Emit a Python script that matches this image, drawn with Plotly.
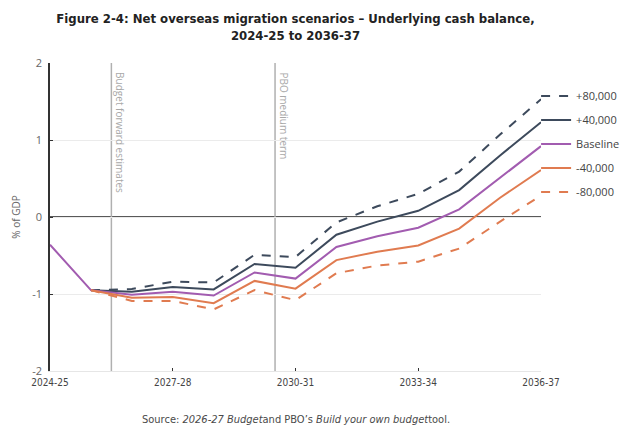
import plotly.graph_objects as go

years = ["2024-25", "2025-26", "2026-27", "2027-28", "2028-29", "2029-30", "2030-31",
         "2031-32", "2032-33", "2033-34", "2034-35", "2035-36", "2036-37"]
tick_labels = ["2024-25", "2027-28", "2030-31", "2033-34", "2036-37"]

plus80 = [None, -0.95, -0.935, -0.84, -0.85, -0.49, -0.52, -0.07, 0.14, 0.30, 0.59, 1.07, 1.53]
plus40 = [None, -0.95, -0.97, -0.91, -0.94, -0.61, -0.66, -0.23, -0.06, 0.08, 0.35, 0.80, 1.23]
baseline = [-0.36, -0.95, -1.01, -0.97, -1.02, -0.72, -0.80, -0.39, -0.25, -0.14, 0.10, 0.51, 0.92]
minus40 = [None, -0.95, -1.05, -1.04, -1.12, -0.83, -0.93, -0.56, -0.45, -0.37, -0.15, 0.25, 0.61]
minus80 = [None, -0.95, -1.09, -1.09, -1.20, -0.95, -1.08, -0.73, -0.63, -0.58, -0.41, -0.06, 0.28]

NAVY = "#3d4a5c"
PURPLE = "#a25cb0"
ORANGE = "#e07b50"
COND = "DejaVu Sans Condensed, Roboto, sans-serif"

series = [
    ("+80,000", plus80, NAVY, "dash"),
    ("+40,000", plus40, NAVY, "solid"),
    ("Baseline", baseline, PURPLE, "solid"),
    ("-40,000", minus40, ORANGE, "solid"),
    ("-80,000", minus80, ORANGE, "dash"),
]

fig = go.Figure()
for i, (name, vals, color, dash) in enumerate(series):
    fig.add_trace(go.Scatter(
        x=years, y=vals, name=name, mode="lines", legendgroup=str(i),
        line=dict(color=color, width=2, dash=dash), connectgaps=False,
    ))

# zero line
fig.add_shape(type="line", xref="paper", x0=0, x1=1, yref="y", y0=0, y1=0,
              line=dict(color="#222222", width=1.5), layer="below")
# period separators
for xpos, label in [(1.5, "Budget forward estimates"), (5.5, "PBO medium term")]:
    fig.add_shape(type="line", xref="x", x0=xpos, x1=xpos, yref="paper", y0=0, y1=1,
                  line=dict(color="#b0b0b0", width=1.5), layer="below")
    fig.add_annotation(x=xpos, xref="x", y=1, yref="paper", text=label, textangle=90,
                       showarrow=False, xanchor="left", yanchor="top", xshift=0, yshift=-7,
                       font=dict(family="Open Sans", size=10, color="#a8a8a8"))

fig.add_annotation(
    text="Source: <i>2026-27 Budget</i>and PBO\u2019s <i>Build your own budget</i>tool.",
    xref="paper", yref="paper", x=0.5, y=-0.156, xanchor="center", yanchor="middle",
    showarrow=False, font=dict(family=COND, size=11, color="#4a4a4a"),
)

fig.update_layout(
    width=622, height=427,
    margin=dict(l=50, r=81, t=63, b=56, autoexpand=False),
    paper_bgcolor="white", plot_bgcolor="white",
    title=dict(
        text="<b>Figure 2-4: Net overseas migration scenarios \u2013 Underlying cash balance,<br>2024-25 to 2036-37</b>",
        x=0.5, xref="paper", xanchor="center", y=0.945, yanchor="top",
        font=dict(family=COND, size=13, color="#222222"),
    ),
    showlegend=True,
    legend=dict(x=0.99, xanchor="left", y=0.94, yanchor="top", tracegroupgap=5, itemwidth=30,
                font=dict(family="Open Sans", size=11, color="#444444"),
                bgcolor="rgba(0,0,0,0)"),
    xaxis=dict(
        type="category", categoryorder="array", categoryarray=years,
        range=[0, 12], tickmode="array", tickvals=tick_labels, ticktext=tick_labels,
        showgrid=False, zeroline=False, showline=True, linecolor="#e6e6e6", linewidth=1,
        ticks="inside", ticklen=3, tickcolor="#333333", tickwidth=1, ticklabelstandoff=2,
        tickfont=dict(family=COND, size=10, color="#444444"),
    ),
    yaxis=dict(
        range=[-2, 2], tickvals=[-2, -1, 0, 1, 2], ticktext=["-2", "-1", "0", "1", "2"],
        showgrid=True, gridcolor="#ebebeb", gridwidth=1, zeroline=False,
        showline=True, linecolor="#333333", linewidth=1.5,
        ticks="inside", ticklen=3, tickcolor="#333333", ticklabelstandoff=4,
        title=dict(text="% of GDP", standoff=10, font=dict(family="Open Sans", size=10, color="#666666")),
        tickfont=dict(family="Open Sans", size=11, color="#666666"),
    ),
)

fig.write_html("out.html")
